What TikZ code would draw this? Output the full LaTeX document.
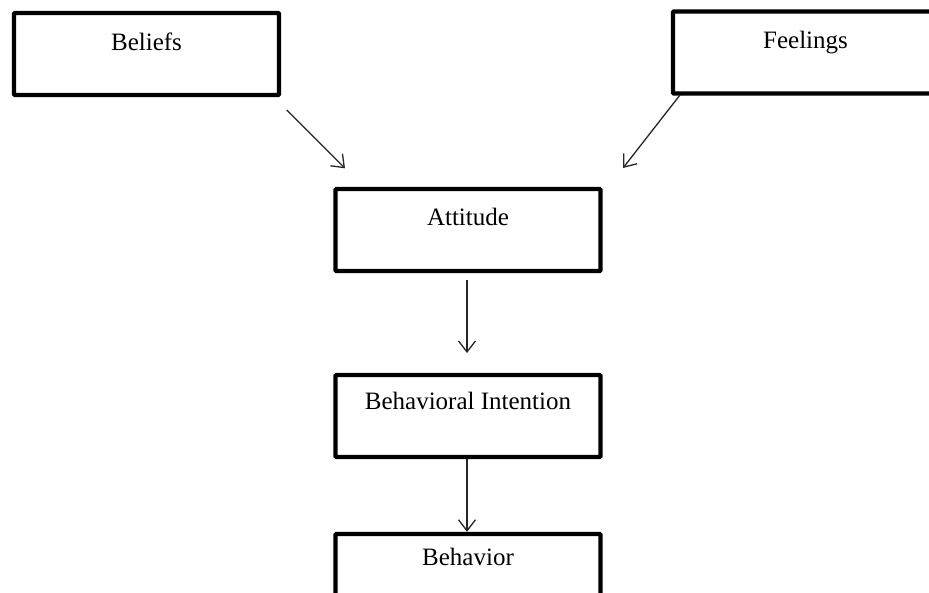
\documentclass[tikz,border=0pt]{standalone}
\usepackage{fontspec}
\setmainfont{Liberation Serif}
\usetikzlibrary{arrows.meta}

\begin{document}
\begin{tikzpicture}[x=1pt,y=-1pt,
  stagebox/.style={draw=black, line width=4.4pt, rounded corners=1pt,
    minimum width=265pt, minimum height=82pt, inner sep=0pt},
  stagetext/.style={anchor=base, inner sep=0pt, font=\fontsize{25}{30}\selectfont},
  flow/.style={draw=black!85, line width=1.3pt,
    -{Straight Barb[length=11pt,width=17pt,line width=1.3pt]}}]
  \useasboundingbox (0,0) rectangle (929,592);

  % boxes (centres; the line runs through the outline's middle)
  \node[stagebox] (beliefs)   at (146.5,54) {};
  \node[stagebox] (feelings)  at (805.5,52.5) {};
  \node[stagebox] (attitude)  at (468,230) {};
  \node[stagebox] (intention) at (468,416) {};
  \node[stagebox] (behavior)  at (468,575) {};

  % labels near the top of each box
  \node[stagetext] (beliefs-t)   at ([yshift=-39.5pt]beliefs.north)   {Beliefs};
  \node[stagetext] (feelings-t)  at ([yshift=-39pt]feelings.north)   {Feelings};
  \node[stagetext] (attitude-t)  at ([yshift=-38.5pt]attitude.north)  {Attitude};
  \node[stagetext] (intention-t) at ([yshift=-36.5pt]intention.north) {Behavioral Intention};
  \node[stagetext] (behavior-t)  at ([yshift=-34pt]behavior.north)    {Behavior};

  % free ends of the arrows between boxes
  \coordinate (b-out) at (286.7,110);
  \coordinate (b-in)  at (345,168.3);
  \coordinate (f-out) at (680,95);
  \coordinate (f-in)  at (623,168);
  \coordinate (a-out) at (467,280);
  \coordinate (a-in)  at (467,353);

  \draw[flow] (b-out) -- (b-in);
  \draw[flow] (f-out) -- (f-in);
  \draw[flow] (a-out) -- (a-in);
  \draw[flow] ([xshift=-1pt]intention.south) -- ([xshift=-1pt]behavior.north);
\end{tikzpicture}
\end{document}
